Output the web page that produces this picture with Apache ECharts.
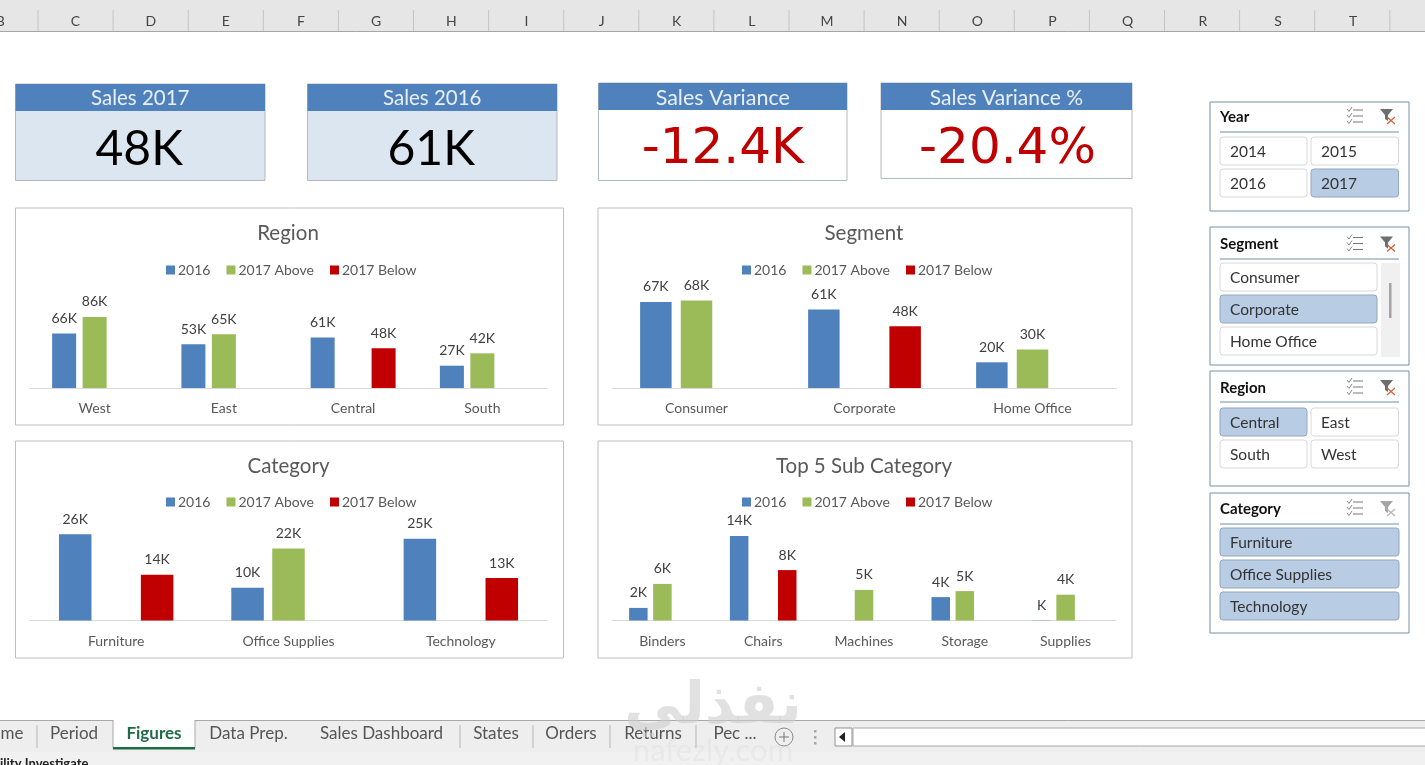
<!DOCTYPE html>
<html>
<head>
<meta charset="utf-8">
<title>Sales Figures Dashboard</title>
<style>html,body{margin:0;padding:0;background:#fff}#c{width:1425px;height:765px}</style>
<script src="https://cdn.jsdelivr.net/npm/echarts@6/dist/echarts.min.js"></script>
</head>
<body>
<div id="c"></div>
<script>
// ---- chart data (thousands) ----
var regionCats = ['West', 'East', 'Central', 'South'];
var region2016 = [66, 53, 61, 27];
var regionAbove = [86, 65, null, 42];
var regionBelow = [null, null, 48, null];

var segmentCats = ['Consumer', 'Corporate', 'Home Office'];
var segment2016 = [67, 61, 20];
var segmentAbove = [68, null, 30];
var segmentBelow = [null, 48, null];

var categoryCats = ['Furniture', 'Office Supplies', 'Technology'];
var category2016 = [26.4, 10, 25];
var categoryAbove = [null, 22, null];
var categoryBelow = [14, null, 13];

var subCats = ['Binders', 'Chairs', 'Machines', 'Storage', 'Supplies'];
var sub2016 = [2.1, 14.1, null, 3.9, 0.04];
var subAbove = [6.1, null, 5.1, 4.9, 4.3];
var subBelow = [null, 8.4, null, null, null];

var seriesNames = ['2016', '2017 Above', '2017 Below'];
var colorBlue = '#4f81bd', colorGreen = '#9bbb59', colorRed = '#c00000';

// ---- KPI cards, sheet chrome ----
var kpiTitles = ['Sales 2017', 'Sales 2016', 'Sales Variance', 'Sales Variance %'];
var kpiValues = ['48K', '61K', '-12.4K', '-20.4%'];
var columnLetters = ['B','C','D','E','F','G','H','I','J','K','L','M','N','O','P','Q','R','S','T'];
var sheetTabs = ['me','Period','Figures','Data Prep.','Sales Dashboard','States','Orders','Returns','Pec ...'];

var FONT = 'Lato, Carlito, Calibri, sans-serif';
var TXT = '#595959';

var g = [];
function rect(x, y, w, h, fill, stroke, z, r) {
  g.push({type:'rect', silent:true, z:z||0, shape:{x:x, y:y, width:w, height:h, r:r||0},
    style:{fill:fill||'none', stroke:stroke||'none', lineWidth:stroke?1:0}});
}
function line(x1, y1, x2, y2, color, w, z) {
  g.push({type:'line', silent:true, z:z||1, shape:{x1:x1, y1:y1, x2:x2, y2:y2},
    style:{stroke:color, lineWidth:w||1}});
}
function text(s, x, y, size, color, align, weight, family, z) {
  g.push({type:'text', silent:true, z:z||3, style:{text:s, x:x, y:y,
    font:(weight||'normal')+' '+size+'px '+(family||FONT), fill:color,
    textAlign:align||'left', textVerticalAlign:'middle'}});
}
function poly(points, fill, z) {
  g.push({type:'polygon', silent:true, z:z||2, shape:{points:points}, style:{fill:fill}});
}
function polyline(points, color, w, z) {
  g.push({type:'polyline', silent:true, z:z||2, shape:{points:points}, style:{stroke:color, lineWidth:w||1, fill:'none'}});
}

// column header
rect(0, 0, 1425, 31.5, '#e6e6e6');
line(0, 31.5, 1425, 31.5, '#a6a6a6', 1);
columnLetters.forEach(function (l, i) {
  text(l, 0.4 + i * 75.15, 21, 14, '#444444', 'center', 'normal', FONT);
  line(38 + i * 75.1, 10, 38 + i * 75.1, 31, '#c4c4c4', 1);
});

// KPI cards
var kpiBox = [[15.5, 265], [307.5, 557], [598.5, 847], [881, 1132]];
var kpiTitleSize = [20.5, 20.5, 21.5, 21];
kpiBox.forEach(function (b, i) {
  var top = i < 2 ? 84 : 83, bot = i === 3 ? 178.5 : 180.5;
  var w = b[1] - b[0];
  rect(b[0], top, w, bot - top, i < 2 ? '#dce6f1' : '#ffffff', '#b4b9be');
  rect(b[0], top, w, 27, colorBlue, null, 1);
  text(kpiTitles[i], b[0] + w / 2, 98, kpiTitleSize[i], '#e9eff7', 'center');
  if (i < 2) text(kpiValues[i], b[0] + w / 2 - 1, 150, 48, '#000000', 'center', 'normal', 'Lato, sans-serif');
  else text(kpiValues[i], b[0] + w / 2 + (i === 3 ? 1 : 0), 150, 50, colorRed, 'center', 'normal', '"DejaVu Sans", sans-serif');
});

// chart panels
rect(15.5, 208, 548, 217, '#fff', '#bfbfbf');
rect(598, 208, 534, 217, '#fff', '#bfbfbf');
rect(15.5, 441, 548, 217, '#fff', '#bfbfbf');
rect(598, 441, 534, 217, '#fff', '#bfbfbf');

// slicers
var btnStroke = '#d8d8d8', selFill = '#b8cce4', selStroke = '#93a7bd', frame = '#7590a8';
function slicer(title, y1, y2, lineY, titleY, buttons, filterOn) {
  rect(1210, y1, 199, y2 - y1, '#fff', frame);
  text(title, 1220, titleY + 1, 15, '#111111', 'left', 'bold');
  line(1220, lineY, 1399, lineY, '#6f8ea6', 1);
  // multi-select icon
  [-6, 0, 6].forEach(function (d) {
    line(1353, titleY + d, 1363, titleY + d, '#777777', 1);
    polyline([[1347, titleY + d - 1], [1349, titleY + d + 1.5], [1352, titleY + d - 3]], '#8a8a8a', 1);
  });
  // clear-filter icon
  poly([[1380, titleY - 7], [1393, titleY - 7], [1388, titleY - 1], [1388, titleY + 5], [1385, titleY + 3], [1385, titleY - 1]], filterOn ? '#6e6e6e' : '#a6a6a6');
  var xc = filterOn ? '#d0603c' : '#b5b5b5';
  line(1387, titleY + 1, 1395, titleY + 8, xc, 1.2, 3);
  line(1395, titleY + 1, 1387, titleY + 8, xc, 1.2, 3);
  buttons.forEach(function (b) {
    rect(b.x, b.y, b.w, 28, b.sel ? selFill : '#fff', b.sel ? selStroke : btnStroke, 1, 3);
    text(b.t, b.x + 10, b.y + 14.5, 15.5, '#333333');
  });
}
slicer('Year', 102, 211, 132, 116, [
  {t:'2014', x:1220, y:137, w:87}, {t:'2015', x:1311, y:137, w:87.5},
  {t:'2016', x:1220, y:169, w:87}, {t:'2017', x:1311, y:169, w:87.5, sel:true}], true);
slicer('Segment', 227, 365, 259, 243.5, [
  {t:'Consumer', x:1220, y:263, w:157}, {t:'Corporate', x:1220, y:295, w:157, sel:true},
  {t:'Home Office', x:1220, y:327, w:157}], true);
rect(1381, 263, 19, 94, '#f0f0f0');
rect(1389, 283, 2.5, 35, '#a3a3a3', null, 2);
slicer('Region', 371, 486, 402, 387, [
  {t:'Central', x:1220, y:408, w:87, sel:true}, {t:'East', x:1311, y:408, w:87.5},
  {t:'South', x:1220, y:440, w:87}, {t:'West', x:1311, y:440, w:87.5}], true);
slicer('Category', 493, 633, 524, 508, [
  {t:'Furniture', x:1220, y:528, w:179, sel:true}, {t:'Office Supplies', x:1220, y:560, w:179, sel:true},
  {t:'Technology', x:1220, y:592, w:179, sel:true}], false);

// tab bar
rect(0, 720, 1425, 45, '#eeeeee');
line(0, 720.5, 1425, 720.5, '#a8a8a8', 1);
rect(0, 752, 1425, 13, '#f1f1f1', null, 1);
rect(113, 720, 82, 29, '#ffffff', null, 1);
line(113, 720, 113, 748, '#a8a8a8', 1, 2);
line(195, 720, 195, 748, '#a8a8a8', 1, 2);
rect(113, 747, 82, 2.5, '#1f6b45', null, 2);
var tabCenters = [12, 74, 154, 248.5, 381.5, 496, 571, 653, 735];
sheetTabs.forEach(function (t, i) {
  var active = t === 'Figures';
  text(t, tabCenters[i], 734, 17, active ? '#1f6b45' : '#555555', 'center', active ? 'bold' : 'normal');
});
[37, 460, 533, 610, 696].forEach(function (x) { line(x, 725, x, 748, '#b5b5b5', 1); });
g.push({type:'circle', silent:true, z:2, shape:{cx:784, cy:737, r:9}, style:{fill:'none', stroke:'#8a8a8a', lineWidth:1}});
line(779, 737, 789, 737, '#777777', 1, 3);
line(784, 732, 784, 742, '#777777', 1, 3);
[731, 737, 743].forEach(function (y) { rect(814, y - 1, 2.5, 2.5, '#a6a6a6', null, 2); });
rect(835, 728, 17, 18, '#fff', '#8f8f8f', 2);
poly([[839, 737], [845, 732], [845, 742]], '#222222', 3);
rect(853, 728, 580, 18, '#fff', '#a6a6a6', 2);
text('ility Investigate', 0, 764, 13, '#222222', 'left', 'bold', FONT, 2);

// watermark
text('نفذلي', 713, 708, 58, 'rgba(205,205,205,0.6)', 'center', 'bold', '"DejaVu Sans", sans-serif', 8);
text('nafezly.com', 713, 751, 31, 'rgba(205,205,205,0.2)', 'center', 'normal', FONT, 8);

// ---- charts ----
var panels = [
  {title:'Region', cx:288, tY:233, legX:166, legY:263, cats:regionCats, d:[region2016, regionAbove, regionBelow],
   left:30, width:517, base:388, px:0.826, max:100, bar:24, gap:'27%', margin:13},
  {title:'Segment', cx:864, tY:233, legX:742, legY:263, cats:segmentCats, d:[segment2016, segmentAbove, segmentBelow],
   left:612.5, width:504, base:388, px:1.285, max:80, bar:31.5, gap:'29%', margin:13},
  {title:'Category', cx:288.5, tY:466, legX:166, legY:495, cats:categoryCats, d:[category2016, categoryAbove, categoryBelow],
   left:30, width:517, base:620.5, px:3.27, max:30, bar:32.5, gap:'26%', margin:14},
  {title:'Top 5 Sub Category', cx:864, tY:466, legX:742, legY:495, cats:subCats, d:[sub2016, subAbove, subBelow],
   left:612, width:504, base:620.5, px:6.0, max:15, bar:18.5, gap:'30%', margin:14}
];
var colors = [colorBlue, colorGreen, colorRed];
var option = {
  animation:false, backgroundColor:'#ffffff', textStyle:{fontFamily:FONT},
  graphic:{elements:g},
  title:[], legend:[], grid:[], xAxis:[], yAxis:[], series:[]
};
panels.forEach(function (p, i) {
  var h = p.max * p.px;
  option.title.push({text:p.title, left:p.cx, top:p.tY - 10, textAlign:'center', padding:0,
    textStyle:{fontSize:20.5, fontWeight:'normal', color:TXT, fontFamily:FONT}});
  option.legend.push({data:seriesNames, left:p.legX, top:p.legY, padding:0, itemWidth:9, itemHeight:9, itemGap:16,
    icon:'rect', selectedMode:false, textStyle:{fontSize:14, color:TXT, fontFamily:FONT, padding:[0,0,0,-2]}});
  option.grid.push({left:p.left, width:p.width, top:p.base - h, height:h});
  option.xAxis.push({type:'category', gridIndex:i, data:p.cats,
    axisTick:{show:false}, axisLine:{lineStyle:{color:'#d9d9d9'}},
    axisLabel:{color:TXT, fontSize:14, margin:p.margin, fontFamily:FONT, interval:0}});
  option.yAxis.push({type:'value', gridIndex:i, min:0, max:p.max, show:false, splitLine:{show:false}});
  seriesNames.forEach(function (n, k) {
    option.series.push({type:'bar', name:n, xAxisIndex:i, yAxisIndex:i, data:p.d[k],
      barWidth:p.bar, barGap:p.gap, itemStyle:{color:colors[k]},
      label:{show:true, position:'top', distance:8, color:'#404040', fontSize:14, fontFamily:FONT,
        formatter:function (v) { var r = Math.round(v.value); return (r === 0 ? '' : r) + 'K'; }}});
  });
});
var chart = echarts.init(document.getElementById('c'));
chart.setOption(option);
</script>
</body>
</html>
